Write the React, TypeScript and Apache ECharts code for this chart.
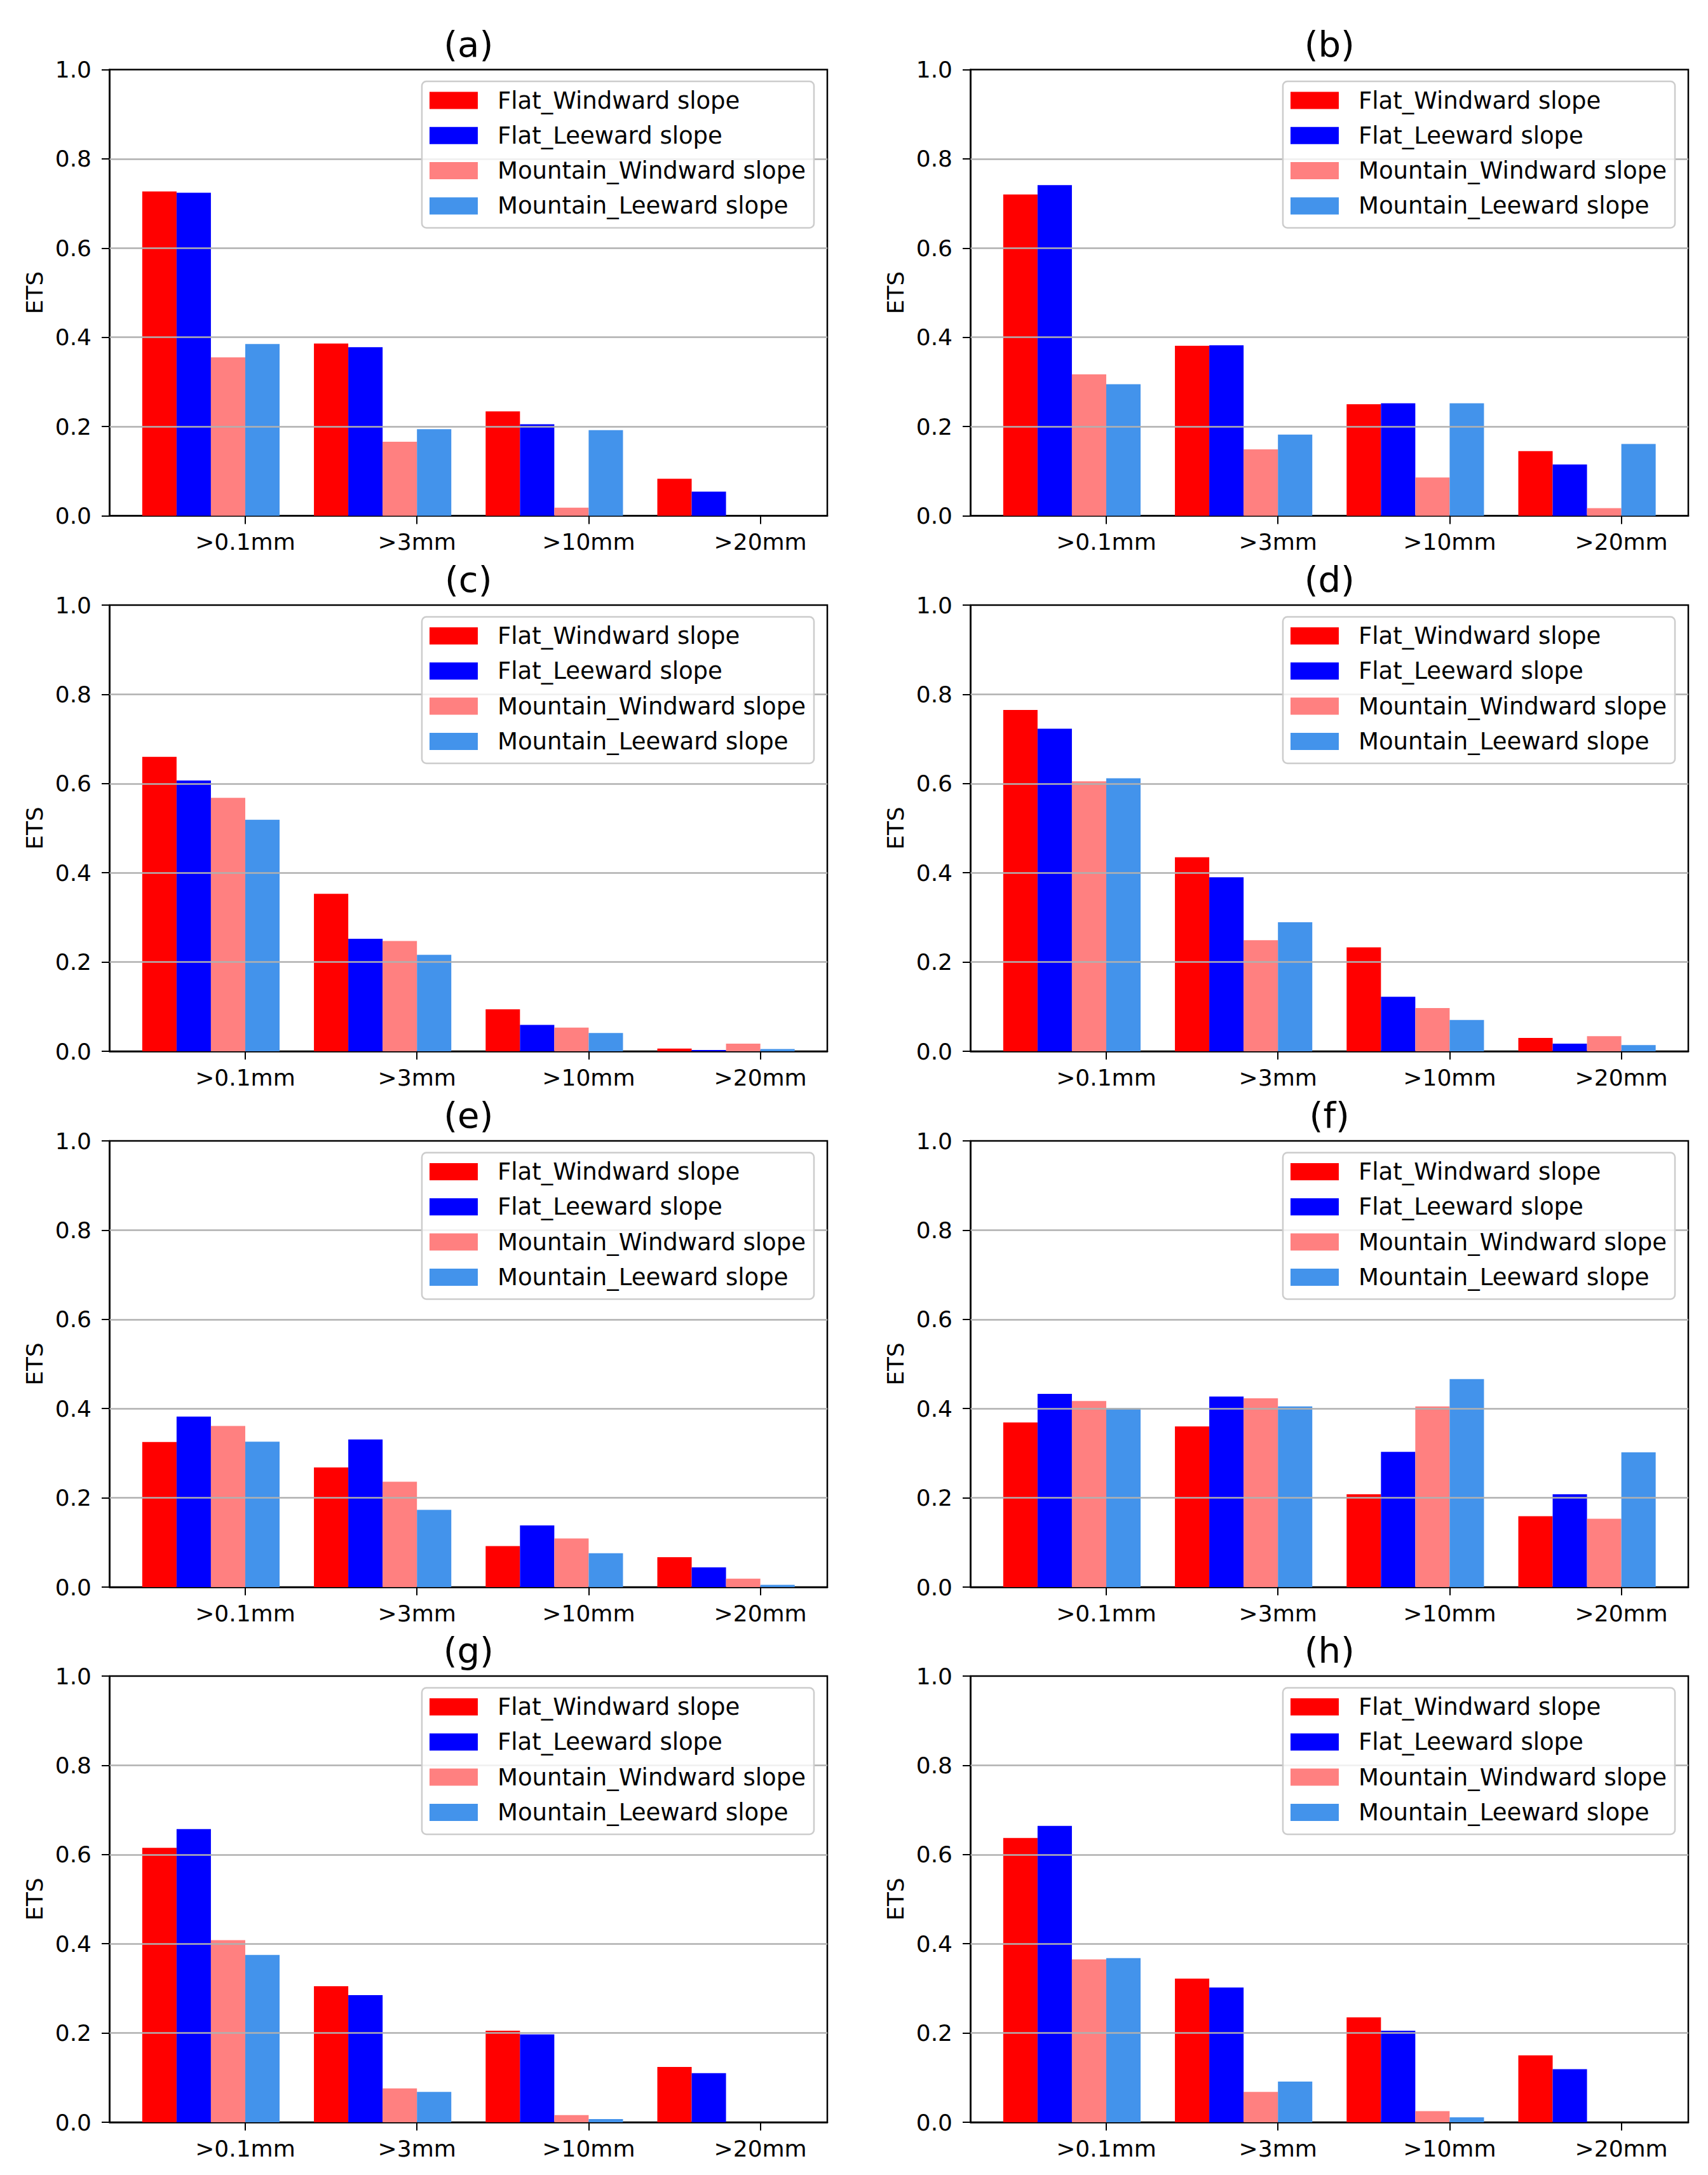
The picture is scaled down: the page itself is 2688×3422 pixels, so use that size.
import React, { useEffect, useRef } from "react";
import * as echarts from "echarts";

const categories = [">0.1mm", ">3mm", ">10mm", ">20mm"];
const seriesNames = [
  "Flat_Windward slope",
  "Flat_Leeward slope",
  "Mountain_Windward slope",
  "Mountain_Leeward slope",
];
const seriesColors = ["#ff0000", "#0000ff", "#ff8080", "#4393eb"];
const panelLabels = ["(a)", "(b)", "(c)", "(d)", "(e)", "(f)", "(g)", "(h)"];
const yAxisName = "ETS";

// each panel: [Flat_Windward, Flat_Leeward, Mountain_Windward, Mountain_Leeward]
const panelA = [
  [0.727, 0.386, 0.234, 0.083],
  [0.724, 0.378, 0.205, 0.054],
  [0.355, 0.166, 0.018, 0.0],
  [0.385, 0.194, 0.192, 0.0],
];
const panelB = [
  [0.72, 0.381, 0.25, 0.145],
  [0.741, 0.382, 0.252, 0.115],
  [0.317, 0.149, 0.086, 0.017],
  [0.295, 0.182, 0.252, 0.161],
];
const panelC = [
  [0.66, 0.353, 0.094, 0.006],
  [0.607, 0.252, 0.059, 0.003],
  [0.568, 0.247, 0.053, 0.017],
  [0.519, 0.216, 0.041, 0.005],
];
const panelD = [
  [0.765, 0.435, 0.233, 0.03],
  [0.723, 0.39, 0.122, 0.017],
  [0.605, 0.249, 0.097, 0.034],
  [0.612, 0.289, 0.07, 0.014],
];
const panelE = [
  [0.325, 0.268, 0.092, 0.067],
  [0.382, 0.331, 0.138, 0.044],
  [0.361, 0.236, 0.109, 0.019],
  [0.326, 0.173, 0.076, 0.005],
];
const panelF = [
  [0.369, 0.36, 0.208, 0.159],
  [0.433, 0.427, 0.303, 0.208],
  [0.417, 0.423, 0.405, 0.153],
  [0.401, 0.405, 0.466, 0.302],
];
const panelG = [
  [0.615, 0.305, 0.205, 0.124],
  [0.657, 0.285, 0.197, 0.11],
  [0.408, 0.076, 0.016, 0.0],
  [0.375, 0.068, 0.007, 0.0],
];
const panelH = [
  [0.637, 0.322, 0.235, 0.15],
  [0.664, 0.302, 0.205, 0.119],
  [0.365, 0.068, 0.025, 0.0],
  [0.368, 0.091, 0.011, 0.0],
];
const panels = [panelA, panelB, panelC, panelD, panelE, panelF, panelG, panelH];
const gridLineValues = [0.2, 0.4, 0.6, 0.8];

const W = 2688;
const H = 3422;
const colLeft = [172.5, 1527.5];
const gridW = 1129.5;
const rowTop = [109.5, 952, 1795, 2637];
const gridH = 702;
const barOffsets = [-0.5, -0.3, -0.1, 0.1];
const barWidth = 0.2;
const FONT = "'DejaVu Sans', sans-serif";

function buildOption() {
  const grid: any[] = [];
  const xAxis: any[] = [];
  const yAxis: any[] = [];
  const series: any[] = [];
  const legend: any[] = [];
  const graphic: any[] = [];
  const lineStyle = { color: "#000", width: 2.5 };
  const tickStyle = { color: "#000", width: 2 };

  panels.forEach((panel, p) => {
    const row = Math.floor(p / 2);
    const col = p % 2;
    const left = colLeft[col];
    const top = rowTop[row];
    grid.push({
      left,
      top,
      width: gridW,
      height: gridH,
      show: true,
      borderColor: "#000",
      borderWidth: 2.5,
      backgroundColor: "transparent",
    });
    xAxis.push({
      gridIndex: p,
      type: "value",
      min: -0.79,
      max: 3.39,
      axisLine: { show: true, onZero: false, lineStyle },
      axisTick: {
        show: true,
        customValues: [0, 1, 2, 3],
        length: 13,
        lineStyle: tickStyle,
      },
      axisLabel: {
        customValues: [0, 1, 2, 3],
        formatter: (v: number) => categories[Math.round(v)],
        fontSize: 36,
        lineHeight: 36,
        fontFamily: FONT,
        color: "#000",
        margin: 23,
      },
      splitLine: { show: false },
    });
    yAxis.push({
      gridIndex: p,
      type: "value",
      min: 0,
      max: 1,
      interval: 0.2,
      name: yAxisName,
      nameLocation: "middle",
      nameRotate: 90,
      nameGap: 100,
      nameTextStyle: { fontSize: 36, lineHeight: 36, color: "#000", fontFamily: FONT },
      axisLine: { show: true, onZero: false, lineStyle },
      axisTick: { show: true, length: 12.5, lineStyle: tickStyle },
      axisLabel: {
        fontSize: 36,
        fontFamily: FONT,
        color: "#000",
        margin: 28.5,
        formatter: (v: number) => v.toFixed(1),
      },
      splitLine: { show: false },
    });
    panel.forEach((vals, k) => {
      const off = barOffsets[k];
      const s: any = {
        type: "custom",
        name: seriesNames[k],
        xAxisIndex: p,
        yAxisIndex: p,
        itemStyle: { color: seriesColors[k] },
        encode: { x: 0, y: 1 },
        data: vals.map((v, i) => [i, v]),
        renderItem: (params: any, api: any) => {
          const x = api.value(0) + off;
          const v = api.value(1);
          const p0 = api.coord([x - barWidth / 2, v]);
          const p1 = api.coord([x + barWidth / 2, 0]);
          return {
            type: "rect",
            shape: { x: p0[0], y: p0[1], width: p1[0] - p0[0], height: p1[1] - p0[1] },
            style: { fill: api.visual("color") },
          };
        },
      };
      if (k === 3) {
        s.markLine = {
          silent: true,
          z: 3,
          symbol: ["none", "none"],
          label: { show: false },
          lineStyle: { color: "#b0b0b0", width: 2.5, type: "solid" },
          data: gridLineValues.map((g) => ({ yAxis: g })),
        };
      }
      series.push(s);
    });
    legend.push({
      orient: "vertical",
      right: W - (left + gridW - 21),
      top: top + 18.5,
      icon: "rect",
      itemWidth: 76,
      itemHeight: 27,
      itemGap: 18.3,
      padding: [11.5, 13, 16, 12],
      backgroundColor: "rgba(255,255,255,0.8)",
      borderColor: "#cccccc",
      borderWidth: 2.5,
      borderRadius: 7,
      selectedMode: false,
      z: 6,
      textStyle: {
        fontSize: 37,
        lineHeight: 37,
        color: "#000",
        fontFamily: FONT,
        padding: [0, 0, 0, 26],
      },
      data: seriesNames,
    });
    graphic.push({
      type: "text",
      x: left + gridW / 2,
      y: top - 40.5,
      style: {
        text: panelLabels[p],
        fontSize: 56,
        fontFamily: FONT,
        fill: "#000",
        align: "center",
        verticalAlign: "middle",
      },
    });
  });

  return {
    animation: false,
    backgroundColor: "#fff",
    textStyle: { fontFamily: FONT, color: "#000" },
    grid,
    xAxis,
    yAxis,
    series,
    legend,
    graphic,
  };
}

export default function App() {
  const ref = useRef<HTMLDivElement>(null);
  useEffect(() => {
    document.body.style.margin = "0";
    if (!ref.current) return;
    const chart = echarts.init(ref.current, undefined, { renderer: "svg" });
    chart.setOption(buildOption() as any);
    return () => chart.dispose();
  }, []);
  return <div ref={ref} style={{ width: W, height: H }} />;
}
